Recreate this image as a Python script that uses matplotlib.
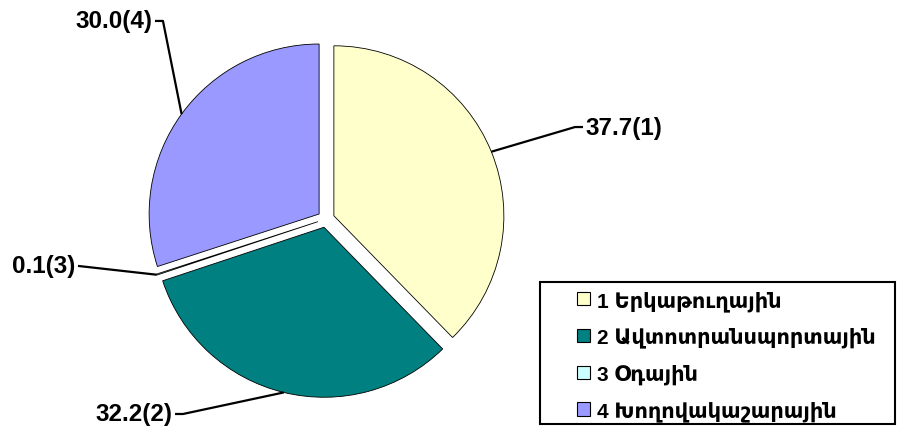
import matplotlib
matplotlib.use("Agg")
import matplotlib.pyplot as plt
from matplotlib.patches import Rectangle
import numpy as np

plt.rcParams['font.family'] = ['Liberation Sans', 'DejaVu Sans']

categories = ["1 Երկաթուղային", "2 Ավտոտրանսպորտային", "3 Օդային", "4 Խողովակաշարային"]
values = [37.7, 32.2, 0.1, 30.0]
ids = [1, 2, 3, 4]
colors = ["#FFFFCC", "#008080", "#CCFFFF", "#9999FF"]
value_labels = [f"{v:.1f}({i})" for v, i in zip(values, ids)]

W, H = 905, 435
fig = plt.figure(figsize=(W / 100, H / 100), dpi=100)
ax = fig.add_axes([0, 0, 1, 1])
cx, cy, R = 326, 215, 170  # pie centre (px from left/bottom) and radius px

explode = 0.05
wedges, _ = ax.pie(values, colors=colors, startangle=90, counterclock=False,
                   explode=[explode] * len(values), radius=1.0,
                   wedgeprops=dict(edgecolor='black', linewidth=0.6),
                   frame=True)
ax.set_xlim(-cx / R, (W - cx) / R)
ax.set_ylim(-cy / R, (H - cy) / R)
ax.set_aspect('auto')
ax.axis('off')

# label layout: (elbow point, text anchor point, ha)
layout = [
    ((1.465, 0.541), (1.512, 0.541), 'left'),
    ((-0.841, -1.147), (-0.888, -1.147), 'right'),
    (None, (-1.459, -0.276), 'right'),
    ((-0.959, 1.165), (-1.006, 1.165), 'right'),
]

for w, lab, (elbow, anchor, ha) in zip(wedges, value_labels, layout):
    mid = np.deg2rad((w.theta1 + w.theta2) / 2)
    r0 = 1.0 + explode
    sx, sy = r0 * np.cos(mid), r0 * np.sin(mid)
    pts = [(sx, sy)]
    if elbow is not None:
        pts.append(elbow)
    pts.append(anchor)
    xs, ys = zip(*pts)
    ax.plot(xs, ys, color='black', linewidth=1.6, solid_capstyle='butt', clip_on=False)
    off = 0.015 if ha == 'left' else -0.015
    ax.text(anchor[0] + off, anchor[1], lab, ha=ha, va='center',
            fontsize=17.5, fontweight='bold', color='black')

# legend
handles = [Rectangle((0, 0), 1, 1, facecolor=c, edgecolor='black', linewidth=0.8) for c in colors]
leg = fig.legend(handles, categories, loc='upper left',
                 bbox_to_anchor=(577 / W, 1 - 291 / H), frameon=False,
                 prop=dict(size=15, weight='bold'),
                 handlelength=0.62, handleheight=0.62, handletextpad=0.36,
                 labelspacing=0.78, borderpad=0, borderaxespad=0)
frame = Rectangle((540 / W, 1 - 425 / H), (895 - 540) / W, (425 - 283) / H,
                  transform=fig.transFigure, facecolor='none', edgecolor='black',
                  linewidth=1.5)
fig.patches.append(frame)

fig.savefig("out.png", dpi=100)
